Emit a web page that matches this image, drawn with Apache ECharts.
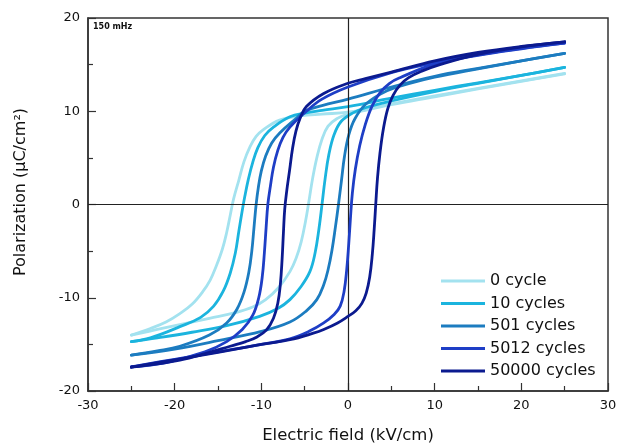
<!DOCTYPE html>
<html>
<head>
<meta charset="utf-8">
<script src="https://cdn.jsdelivr.net/npm/echarts@6/dist/echarts.min.js"></script>
<style>
html,body{margin:0;padding:0;background:#fff;}
#chart{width:630px;height:447px;}
</style>
</head>
<body>
<div id="chart"></div>
<script>
// Series names
const seriesNames = ['0 cycle', '10 cycles', '501 cycles', '5012 cycles', '50000 cycles'];
const seriesColors = ['#a3e2ef', '#1bb4de', '#1c7cc0', '#1e3ec6', '#0b1a8f'];

// Axis ticks
const xTicks = [-30, -20, -10, 0, 10, 20, 30];
const yTicks = [-20, -10, 0, 10, 20];

// Hysteresis loop branches [E (kV/cm), P (uC/cm2)]
const c0Upper = [[25,14.06],[20,13.25],[15,12.45],[10,11.65],[5,10.8],[0,9.9],[-3,9.7],[-5.5,9.5],[-7.9,9.05],[-9.8,8.0],[-10.6,7.3],[-11.3,6.2],[-12.0,4.6],[-12.6,2.6],[-13.2,0.6],[-13.6,-1.2],[-14.0,-3.0],[-14.5,-4.8],[-15.2,-6.6],[-15.9,-8.1],[-16.8,-9.4],[-18,-10.7],[-19.4,-11.7],[-21,-12.6],[-22.8,-13.3],[-25,-14.0]];
const c0Lower = [[-25,-14.0],[-22,-13.4],[-19,-12.8],[-16,-12.2],[-13,-11.6],[-11,-11.0],[-9.5,-10.2],[-8,-8.9],[-6.7,-7.2],[-6.0,-5.8],[-5.4,-4.0],[-4.9,-1.8],[-4.5,0.4],[-4.1,2.7],[-3.6,5.0],[-3.0,7.0],[-2.3,8.4],[-1.3,9.2],[0,9.7],[2,10.1],[5,10.7],[10,11.55],[15,12.4],[20,13.2],[25,14.0]];

const c10Upper = [[25,14.7],[20,13.85],[15,13.05],[10,12.25],[5,11.4],[0,10.5],[-3,10.1],[-5,9.8],[-6.7,9.4],[-8.6,8.3],[-9.6,7.4],[-10.4,6.1],[-11.0,4.5],[-11.5,2.7],[-11.9,0.9],[-12.25,-0.9],[-12.6,-2.9],[-13.0,-5.2],[-13.6,-7.4],[-14.4,-9.3],[-15.5,-10.9],[-17,-12.1],[-19.4,-13.1],[-22.8,-14.3],[-25,-14.7]];
const c10Lower = [[-25,-14.7],[-22,-14.3],[-18,-13.7],[-14,-13.0],[-10.2,-12.0],[-8,-11.1],[-6.7,-10.2],[-5.5,-8.9],[-4.4,-7.2],[-3.8,-5.2],[-3.35,-2.6],[-3.0,0],[-2.65,2.7],[-2.2,5.4],[-1.6,7.5],[-0.8,8.9],[0.5,9.8],[2.1,10.4],[5,11.1],[10,12.1],[15,13.0],[20,13.85],[25,14.7]];

const c501Upper = [[25,16.2],[20,15.4],[15,14.6],[10,13.75],[5,12.6],[0,11.3],[-3,10.6],[-5,10.0],[-5.9,9.3],[-7.85,7.7],[-8.8,6.6],[-9.5,5.2],[-10.0,3.6],[-10.35,1.8],[-10.6,0],[-10.85,-2.5],[-11.1,-5.0],[-11.45,-7.3],[-12.0,-9.4],[-12.8,-11.2],[-14.0,-12.7],[-16,-14.0],[-19.4,-15.2],[-22,-15.7],[-25,-16.15]];
const c501Lower = [[-25,-16.15],[-20,-15.5],[-15,-14.6],[-10,-13.6],[-6.7,-12.6],[-4.8,-11.4],[-3.6,-10.2],[-2.8,-8.6],[-2.3,-7.0],[-1.85,-4.9],[-1.45,-2.4],[-1.1,0],[-0.75,2.6],[-0.4,5.2],[0.1,7.5],[0.8,9.2],[2.1,10.8],[4.5,12.2],[7,12.95],[10,13.65],[15,14.55],[20,15.4],[25,16.2]];

const c5012Upper = [[25,17.3],[20,16.75],[15,16.05],[10,15.2],[5,14.15],[0,12.6],[-3,11.3],[-4.8,10.0],[-6.7,8.3],[-7.5,7.2],[-8.1,5.8],[-8.6,4.0],[-8.95,2.0],[-9.25,0],[-9.45,-2.5],[-9.65,-5.2],[-9.9,-7.8],[-10.3,-10.0],[-11.0,-11.9],[-12.2,-13.4],[-14,-14.7],[-16.5,-15.8],[-21,-16.95],[-25,-17.4]];
const c5012Lower = [[-25,-17.4],[-20,-16.6],[-15,-15.8],[-10,-15.0],[-6.7,-14.4],[-4.5,-13.6],[-2.8,-12.7],[-1.6,-11.8],[-0.9,-10.9],[-0.45,-9.3],[-0.15,-7.0],[0.08,-4.3],[0.28,-1.5],[0.5,1.2],[0.85,3.8],[1.35,6.3],[2.0,8.6],[2.8,10.6],[3.7,12.0],[4.8,13.0],[6.0,13.6],[10,15.05],[15,16.0],[20,16.7],[25,17.3]];

const c50000Upper = [[25,17.45],[20,16.95],[15,16.3],[10,15.4],[5,14.2],[2,13.5],[0,13.0],[-2.8,11.9],[-4.8,10.5],[-5.5,9.3],[-6.0,7.9],[-6.4,6.0],[-6.75,3.6],[-7.05,1.6],[-7.3,-0.5],[-7.45,-3.0],[-7.6,-5.8],[-7.8,-8.5],[-8.1,-10.6],[-8.6,-12.2],[-9.4,-13.45],[-10.5,-14.2],[-11.8,-14.7],[-13.6,-15.2],[-16.5,-16.0],[-19.4,-16.7],[-22,-17.1],[-25,-17.45]];
const c50000Lower = [[-25,-17.45],[-20,-16.65],[-15,-15.85],[-10,-15.0],[-6.7,-14.5],[-4,-13.8],[-2.8,-13.4],[-1.2,-12.7],[0,-12.0],[0.9,-11.4],[1.6,-10.6],[2.1,-9.5],[2.5,-7.8],[2.8,-5.4],[3.02,-2.7],[3.2,0],[3.4,2.8],[3.7,5.6],[4.1,8.2],[4.6,10.3],[5.2,11.7],[6.0,12.8],[7.0,13.6],[8.5,14.3],[10.6,15.0],[15,16.1],[20,16.9],[25,17.45]];

const branches = [
  [c0Upper, c0Lower],
  [c10Upper, c10Lower],
  [c501Upper, c501Lower],
  [c5012Upper, c5012Lower],
  [c50000Upper, c50000Lower]
];

const FONT = "'DejaVu Sans', sans-serif";
const chart = echarts.init(document.getElementById('chart'), null, {renderer: 'canvas'});

const series = [];
branches.forEach((b, i) => {
  b.forEach((branch, j) => {
    const s = {
      name: seriesNames[i],
      type: 'line',
      data: branch,
      showSymbol: false,
      symbol: 'none',
      smooth: 0.4,
      lineStyle: {color: seriesColors[i], width: 2.8, cap: 'round', join: 'round'},
      itemStyle: {color: seriesColors[i]},
      z: 2 + i,
      animation: false
    };
    if (i === branches.length - 1 && j === 1) {
      s.markLine = {
        silent: true,
        symbol: 'none',
        animation: false,
        label: {show: false},
        lineStyle: {color: '#222', width: 1.2, type: 'solid'},
        data: [{xAxis: 0}, {yAxis: 0}]
      };
    }
    series.push(s);
  });
});

const axisCommon = {
  type: 'value',
  axisLine: {show: true, onZero: false, lineStyle: {color: '#333', width: 1.5}},
  axisTick: {show: true, inside: true, length: 8, lineStyle: {color: '#333', width: 1.2}},
  minorTick: {show: true, splitNumber: 2, length: 5, lineStyle: {color: '#333', width: 1.2}},
  splitLine: {show: false},
  minorSplitLine: {show: false},
  axisLabel: {color: '#111', fontFamily: FONT, fontSize: 13, margin: 8}
};

chart.setOption({
  animation: false,
  backgroundColor: '#fff',
  grid: {left: 88, right: 22, top: 18, bottom: 56, show: true, borderColor: '#333', borderWidth: 1.5, backgroundColor: 'transparent'},
  xAxis: Object.assign({}, axisCommon, {min: xTicks[0], max: xTicks[xTicks.length - 1], interval: 10}),
  yAxis: Object.assign({}, axisCommon, {min: yTicks[0], max: yTicks[yTicks.length - 1], interval: 10}),
  legend: {
    orient: 'vertical',
    left: 441,
    top: 273,
    padding: 0,
    itemGap: 6.5,
    itemWidth: 44,
    itemHeight: 3,
    icon: 'rect',
    data: seriesNames,
    textStyle: {fontFamily: FONT, fontSize: 16, color: '#111', lineHeight: 16}
  },
  graphic: [
    {type: 'text', left: 93, top: 23, style: {text: '150 mHz', font: "bold 8px 'DejaVu Sans', sans-serif", fill: '#111'}},
    {type: 'text', x: 348, y: 436, style: {text: 'Electric field (kV/cm)', font: "16.5px 'DejaVu Sans', sans-serif", fill: '#111', textAlign: 'center', textVerticalAlign: 'middle'}},
    {type: 'text', x: 21, y: 192, rotation: Math.PI / 2, style: {text: 'Polarization (μC/cm²)', font: "16px 'DejaVu Sans', sans-serif", fill: '#111', textAlign: 'center', textVerticalAlign: 'middle'}}
  ],
  series: series
});
</script>
</body>
</html>
